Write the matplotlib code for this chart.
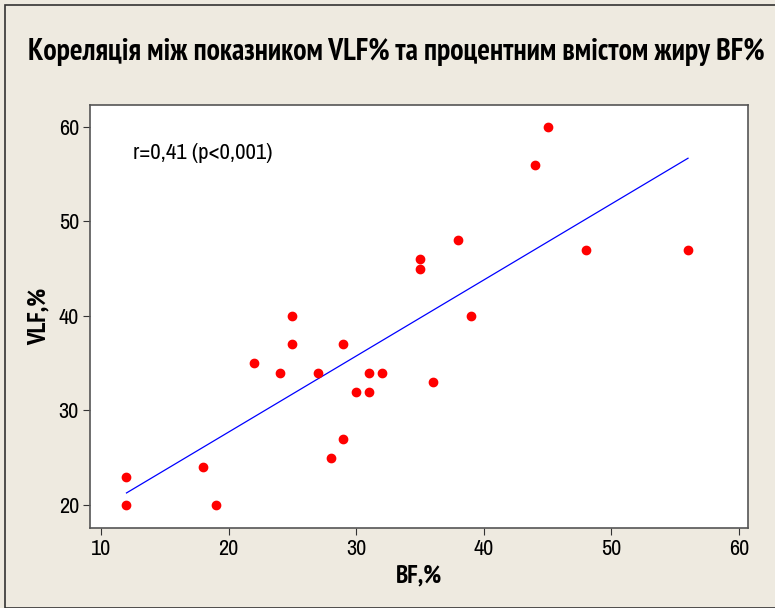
import numpy as np
import matplotlib
matplotlib.use("Agg")
import matplotlib.pyplot as plt
import matplotlib.font_manager as fm
from matplotlib.patches import Rectangle

bf = [12, 12, 18, 19, 22, 24, 25, 25, 27, 28, 29, 29, 30, 31, 31, 32, 35, 35, 36, 38, 39, 44, 45, 48, 56]
vlf = [23, 20, 24, 20, 35, 34, 40, 37, 34, 25, 37, 27, 32, 34, 32, 34, 46, 45, 33, 48, 40, 56, 60, 47, 47]
x_ticks = [10, 20, 30, 40, 50, 60]
y_ticks = [20, 30, 40, 50, 60]
title = "Кореляція між показником VLF% та процентним вмістом жиру BF%"
annotation = "r=0,41 (p<0,001)"
x_label = "BF,%"
y_label = "VLF,%"


def find_font(bold):
    files = [f.fname for f in fm.fontManager.ttflist]
    for key in ("narrow", "condensed"):
        for fn in files:
            low = fn.lower().split("/")[-1]
            if key in low and "oblique" not in low and "italic" not in low:
                isbold = "bold" in low
                if isbold == bold:
                    return fn
    return None


reg_file = find_font(False)
bold_file = find_font(True)


def fp(size, bold=False):
    f = bold_file if bold else reg_file
    if f:
        return fm.FontProperties(fname=f, size=size)
    return fm.FontProperties(family="DejaVu Sans", size=size,
                             weight="bold" if bold else "normal", stretch="condensed")


bg = "#eeeae0"
fig = plt.figure(figsize=(7.75, 6.08), dpi=100, facecolor=bg)
fig.patches.append(Rectangle((5 / 775, 0), 1, 1 - 5 / 608, transform=fig.transFigure,
                             fill=False, edgecolor="#333333", linewidth=1.2))

ax = fig.add_axes([90 / 775, 80 / 608, 658 / 775, 423 / 608])
ax.set_facecolor("white")

xa = np.array(bf, dtype=float)
ya = np.array(vlf, dtype=float)
slope, intercept = np.polyfit(xa, ya, 1)
xs = np.array([xa.min(), xa.max()])
ax.plot(xs, slope * xs + intercept, color="#0000ff", linewidth=0.9, zorder=2)
ax.plot(xa, ya, linestyle="none", marker="o", markersize=6,
        markerfacecolor="#ff0000", markeredgecolor="#ff0000", zorder=3)

ax.set_xlim(9.14, 60.7)
ax.set_ylim(17.57, 62.3)
ax.set_xticks(x_ticks)
ax.set_yticks(y_ticks)
ax.tick_params(direction="out", length=5, width=0.8, color="#333333", pad=3)
for lab in ax.get_xticklabels() + ax.get_yticklabels():
    lab.set_fontproperties(fp(16))
for s in ax.spines.values():
    s.set_color("#555555")
    s.set_linewidth(1.2)

ax.set_xlabel(x_label, fontproperties=fp(18, True), labelpad=4)
ax.set_ylabel(y_label, fontproperties=fp(18, True), labelpad=6)
ax.text(12.5, 57.2, annotation, fontproperties=fp(16.5), ha="left", va="center")

fig.text(396 / 775, 1 - 52 / 608, title, fontproperties=fp(21.3, True), ha="center", va="center")

fig.savefig("out.png", dpi=100, facecolor=bg)
